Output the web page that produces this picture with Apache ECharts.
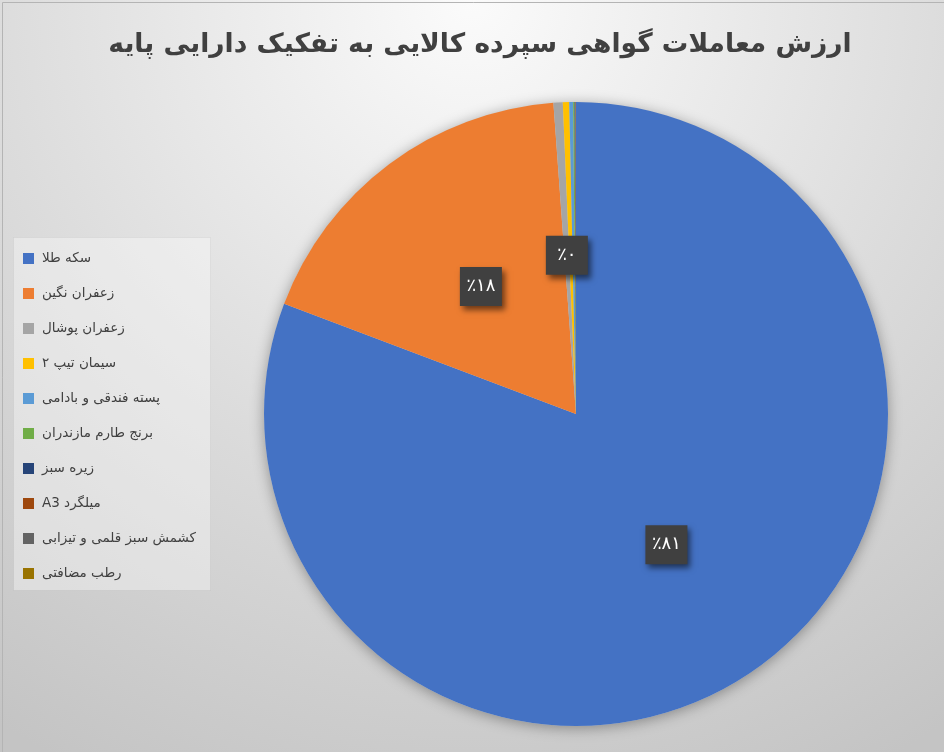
<!DOCTYPE html>
<html>
<head>
<meta charset="utf-8">
<script src="https://cdn.jsdelivr.net/npm/echarts@6/dist/echarts.min.js"></script>
<style>
html,body{margin:0;padding:0;background:#fff;}
#c{width:944px;height:752px;}
</style>
</head>
<body>
<div id="c" dir="rtl"></div>
<script>
var titleText = 'ارزش معاملات گواهی سپرده کالایی به تفکیک دارایی پایه';
var categories = ['سکه طلا','زعفران نگین','زعفران پوشال','سیمان تیپ ۲','پسته فندقی و بادامی','برنج طارم مازندران','زیره سبز','میلگرد A3','کشمش سبز قلمی و تیزابی',' رطب مضافتی'];
var values = [80.75, 18.1, 0.48, 0.33, 0.2, 0.07, 0.04, 0.02, 0.01, 0.005];
var colors = ['#4472C4','#ED7D31','#A5A5A5','#FFC000','#5B9BD5','#70AD47','#264478','#9E480E','#636363','#997300'];
var labelledCount = 3;

var faDigits = '۰۱۲۳۴۵۶۷۸۹';
function toFa(n){ return String(n).replace(/[0-9]/g, function(d){ return faDigits[+d]; }); }

var chart = echarts.init(document.getElementById('c'), null, {renderer:'canvas'});
var data = categories.map(function(name, i){
  return {name:name, value:values[i], itemStyle:{color:colors[i]}, label:{show:i<labelledCount}};
});
chart.setOption({
  animation:false,
  backgroundColor:{type:'radial', x:0.5, y:0.0, r:1.15, colorStops:[
    {offset:0, color:'#fbfbfb'},{offset:0.55, color:'#dcdcdc'},{offset:1, color:'#c4c4c4'}]},
  title:{text:titleText, left:475, top:27, textAlign:'center',
    textStyle:{fontFamily:'DejaVu Sans', fontWeight:'bold', fontSize:26.5, color:'#404040'}},
  graphic:[{type:'rect', left:13, top:237, shape:{width:197, height:353}, silent:true,
    style:{fill:'rgba(255,255,255,0.35)', stroke:'rgba(0,0,0,0.04)'}},
    {type:'rect', left:0, top:0, shape:{width:943, height:751}, silent:true,
    style:{fill:'none', stroke:'#b4b4b4', lineWidth:1}}],
  legend:{orient:'vertical', left:23, top:251, padding:0, itemWidth:11, itemHeight:11, itemGap:20,
    icon:'rect', selectedMode:false,
    formatter:function(n){ return '\u202B' + n + '\u202C'; },
    textStyle:{fontFamily:'DejaVu Sans', fontSize:13.5, color:'#404040', lineHeight:15, padding:[0,0,0,3]},
    data:categories},
  series:[
    {type:'pie', silent:true, center:[576,414], radius:[0,312], z:1,
     label:{show:false}, labelLine:{show:false}, legendHoverLink:false,
     itemStyle:{color:'#d0d0d0', shadowBlur:14, shadowColor:'rgba(0,0,0,0.35)', shadowOffsetX:0, shadowOffsetY:2},
     data:[{name:'_bg', value:1}], tooltip:{show:false}},
    {type:'pie', center:[576,414], radius:[0,312], startAngle:90, clockwise:true, z:2,
     minAngle:0, avoidLabelOverlap:false,
     itemStyle:{borderWidth:0},
     label:{position:'inside', color:'#ffffff', fontFamily:'DejaVu Sans', fontSize:18,
       backgroundColor:'#404040', width:42, height:39, lineHeight:39, align:'center', verticalAlign:'middle',
       padding:0, shadowColor:'rgba(0,0,0,0.55)', shadowBlur:6, shadowOffsetX:3, shadowOffsetY:4,
       formatter:function(p){ return '٪' + toFa(Math.round(p.percent)); }},
     labelLine:{show:false},
     data:data}
  ]
});
</script>
</body>
</html>
